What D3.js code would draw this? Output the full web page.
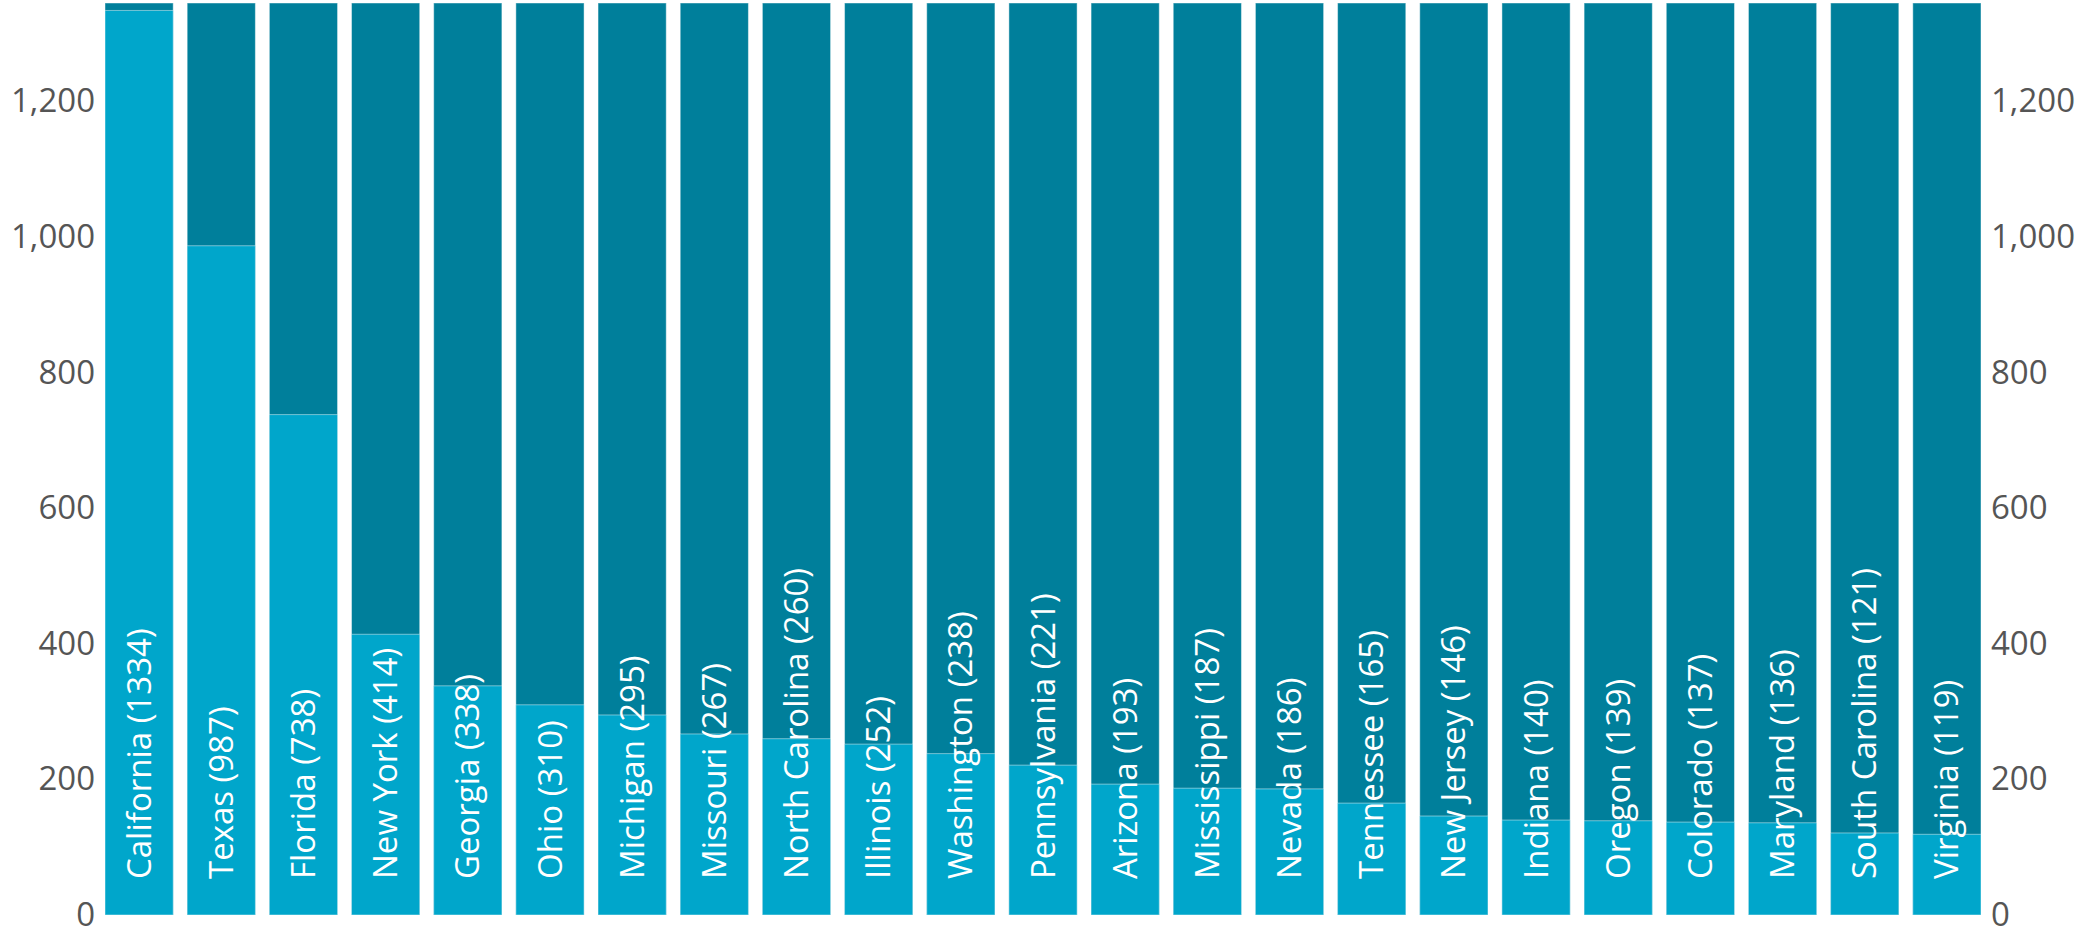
<!DOCTYPE html>
<html>
<head>
<meta charset="utf-8">
<script src="https://cdn.jsdelivr.net/npm/d3@7"></script>
<style>
  html, body { margin: 0; padding: 0; background: #fff; }
  svg { display: block; }
  .tick text { font-family: "Open Sans", sans-serif; font-size: 33px; fill: #555; }
  .bar-label { font-family: "Open Sans", sans-serif; font-size: 33px; fill: #fff; }
</style>
</head>
<body>
<svg id="chart"></svg>
<script>
const states = ["California", "Texas", "Florida", "New York", "Georgia", "Ohio", "Michigan",
  "Missouri", "North Carolina", "Illinois", "Washington", "Pennsylvania", "Arizona",
  "Mississippi", "Nevada", "Tennessee", "New Jersey", "Indiana", "Oregon", "Colorado",
  "Maryland", "South Carolina", "Virginia"];
const counts = [1334, 987, 738, 414, 338, 310, 295, 267, 260, 252, 238, 221, 193,
  187, 186, 165, 146, 140, 139, 137, 136, 121, 119];
const yTicks = [0, 200, 400, 600, 800, 1000, 1200];
const yMax = 1345;

const W = 2083, H = 929;
const margin = { top: 3, right: 102, bottom: 14, left: 105 };

const data = states.map((s, i) => ({ state: s, value: counts[i] }));

const svg = d3.select("#chart").attr("width", W).attr("height", H);

const x = d3.scaleBand()
  .domain(states)
  .range([margin.left, W - margin.right])
  .paddingInner(0.17)
  .paddingOuter(0);

const y = d3.scaleLinear()
  .domain([0, yMax])
  .range([H - margin.bottom, margin.top]);

// background (full height) bars
svg.append("g")
  .selectAll("rect")
  .data(data)
  .join("rect")
  .attr("x", d => x(d.state))
  .attr("y", y(yMax))
  .attr("width", x.bandwidth())
  .attr("height", y(0) - y(yMax))
  .attr("fill", "#007f9b")
  .attr("stroke", "#ffffff")
  .attr("stroke-opacity", 0.45)
  .attr("stroke-width", 1);

// value bars
svg.append("g")
  .selectAll("rect")
  .data(data)
  .join("rect")
  .attr("x", d => x(d.state))
  .attr("y", d => y(d.value))
  .attr("width", x.bandwidth())
  .attr("height", d => y(0) - y(d.value))
  .attr("fill", "#00a6cb")
  .attr("stroke", "#ffffff")
  .attr("stroke-opacity", 0.45)
  .attr("stroke-width", 1);

// rotated labels
svg.append("g")
  .selectAll("text")
  .data(data)
  .join("text")
  .attr("class", "bar-label")
  .attr("transform", d => "translate(" + (x(d.state) + x.bandwidth() / 2) + "," + (y(0) - 36) + ") rotate(-90)")
  .attr("dy", "0.35em")
  .text(d => d.state + " (" + d.value + ")");

// axes
const yAxisLeft = svg.append("g")
  .attr("transform", "translate(" + (margin.left - 2) + ",0)")
  .call(d3.axisLeft(y).tickValues(yTicks).tickSize(0).tickPadding(8).tickFormat(d3.format(",")));
yAxisLeft.select(".domain").remove();

const yAxisRight = svg.append("g")
  .attr("transform", "translate(" + (W - margin.right + 2) + ",0)")
  .call(d3.axisRight(y).tickValues(yTicks).tickSize(0).tickPadding(8).tickFormat(d3.format(",")));
yAxisRight.select(".domain").remove();
</script>
</body>
</html>
